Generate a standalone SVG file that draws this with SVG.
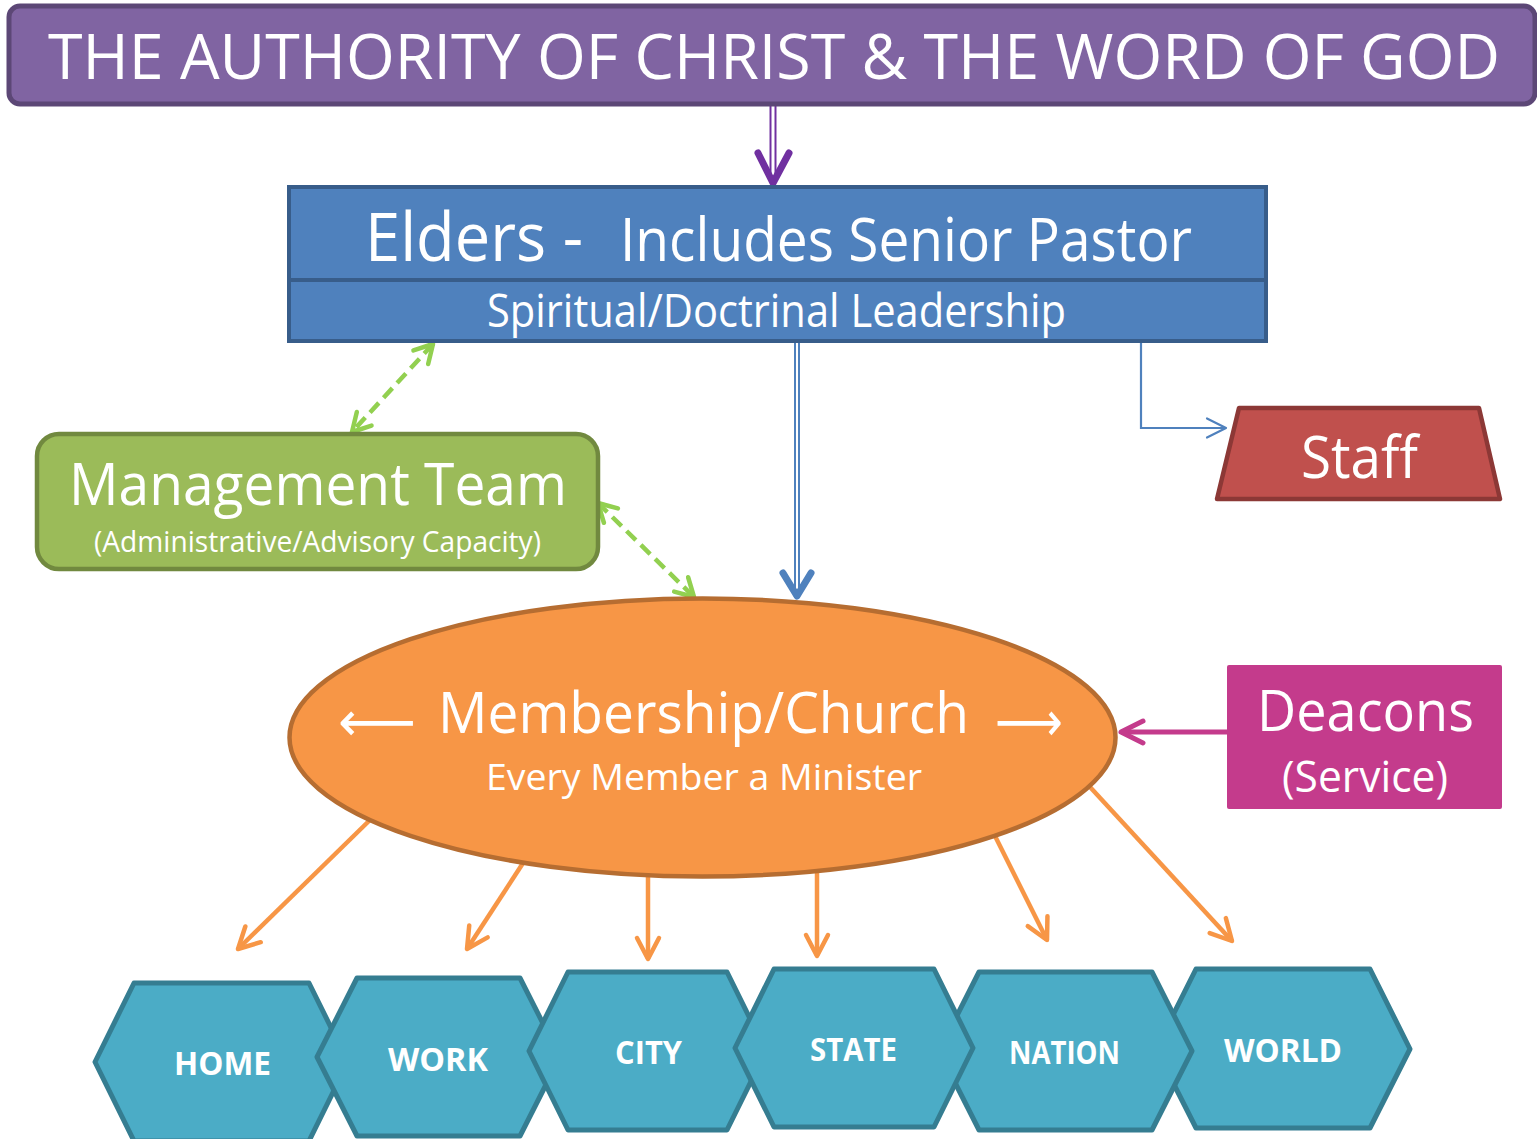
<svg xmlns="http://www.w3.org/2000/svg" width="1537" height="1139" viewBox="0 0 1537 1139">
<defs>
<style>
.t{font-family:"Open Sans","Noto Sans","Liberation Sans",sans-serif;fill:#FFFFFF}
.hx{fill:#4BACC6;stroke:#357D91;stroke-width:5;stroke-linejoin:round}
.hl{font-family:"Open Sans","Noto Sans","Liberation Sans",sans-serif;font-weight:bold;fill:#FFFFFF;font-size:33px}
.or{stroke:#F79646;stroke-width:4.5;fill:none;marker-end:url(#m-orange)}
.gr{stroke:#92D050;stroke-width:4.5;fill:none;stroke-dasharray:13 7;marker-start:url(#m-green);marker-end:url(#m-green)}
</style>
<marker id="m-orange" viewBox="0 0 30 30" refX="25" refY="15" markerWidth="30" markerHeight="30" orient="auto" markerUnits="userSpaceOnUse">
<path d="M4,4 L25,15 L4,26" fill="none" stroke="#F79646" stroke-width="4.5" stroke-linecap="round" stroke-linejoin="round"/>
</marker>
<marker id="m-green" viewBox="0 0 28 28" refX="23" refY="14" markerWidth="28" markerHeight="28" orient="auto-start-reverse" markerUnits="userSpaceOnUse">
<path d="M5,4 L23,14 L5,24" fill="none" stroke="#92D050" stroke-width="4.5" stroke-linecap="round" stroke-linejoin="round"/>
</marker>
<marker id="m-blue" viewBox="0 0 26 24" refX="22" refY="12" markerWidth="26" markerHeight="24" orient="auto" markerUnits="userSpaceOnUse">
<path d="M3,2.5 L22,12 L3,21.5" fill="none" stroke="#4F81BD" stroke-width="2.2" stroke-linecap="round" stroke-linejoin="round"/>
</marker>
<marker id="m-mag" viewBox="0 0 30 30" refX="26" refY="15" markerWidth="30" markerHeight="30" orient="auto" markerUnits="userSpaceOnUse">
<path d="M4,4 L26,15 L4,26" fill="none" stroke="#C43B8C" stroke-width="5" stroke-linecap="round" stroke-linejoin="round"/>
</marker>
</defs>

<g id="connectors">
<line x1="770.5" y1="104" x2="770.5" y2="180" stroke="#7030A0" stroke-width="2"/>
<line x1="775.5" y1="104" x2="775.5" y2="180" stroke="#7030A0" stroke-width="2"/>
<path d="M758,153 L773,183 L789,153" fill="none" stroke="#7030A0" stroke-width="7" stroke-linecap="round" stroke-linejoin="round"/>
<line x1="795" y1="342" x2="795" y2="592" stroke="#4F81BD" stroke-width="2"/>
<line x1="799" y1="342" x2="799" y2="592" stroke="#4F81BD" stroke-width="2"/>
<path d="M783,573 L797,596 L811,573" fill="none" stroke="#4F81BD" stroke-width="7" stroke-linecap="round" stroke-linejoin="round"/>
<path d="M1141,342 V428 H1226" fill="none" stroke="#4F81BD" stroke-width="2.2" marker-end="url(#m-blue)"/>
<line class="gr" x1="433" y1="344" x2="352" y2="432"/>
<line class="gr" x1="598" y1="503" x2="694" y2="597"/>
<line x1="1228" y1="732" x2="1121" y2="732" stroke="#C43B8C" stroke-width="5" marker-end="url(#m-mag)"/>
<line class="or" x1="372" y1="818" x2="238" y2="949"/>
<line class="or" x1="525" y1="860" x2="467" y2="949"/>
<line class="or" x1="648" y1="877" x2="648" y2="959"/>
<line class="or" x1="817" y1="872" x2="817" y2="956"/>
<line class="or" x1="993" y1="832" x2="1047" y2="940"/>
<line class="or" x1="1090" y1="787" x2="1232" y2="941"/>
</g>

<g id="node-title">
<rect x="9" y="6" width="1526" height="98" rx="11" fill="#8064A2" stroke="#5C4776" stroke-width="5"/>
<text class="t" x="48" y="79" font-size="62" textLength="1452" lengthAdjust="spacingAndGlyphs">THE AUTHORITY OF CHRIST &amp; THE WORD OF GOD</text>
</g>

<g id="node-elders">
<rect x="289" y="187" width="977" height="154" fill="#4F81BD" stroke="#385D8A" stroke-width="4"/>
<line x1="289" y1="280" x2="1266" y2="280" stroke="#385D8A" stroke-width="4"/>
<text class="t" x="365" y="261" font-size="67" textLength="218" lengthAdjust="spacingAndGlyphs">Elders -</text>
<text class="t" x="620" y="261" font-size="60" textLength="572" lengthAdjust="spacingAndGlyphs">Includes Senior Pastor</text>
<text class="t" x="487" y="327" font-size="45" textLength="579" lengthAdjust="spacingAndGlyphs">Spiritual/Doctrinal Leadership</text>
</g>

<g id="node-management">
<rect x="37" y="434" width="561" height="135" rx="22" fill="#9BBB59" stroke="#71893F" stroke-width="4.5"/>
<text class="t" x="69" y="505" font-size="59" textLength="498" lengthAdjust="spacingAndGlyphs">Management Team</text>
<text class="t" x="94" y="552" font-size="30" textLength="447" lengthAdjust="spacingAndGlyphs">(Administrative/Advisory Capacity)</text>
</g>

<g id="node-staff">
<polygon points="1239,408 1479,408 1500,499 1217,499" fill="#C0504D" stroke="#8C3836" stroke-width="4.5" stroke-linejoin="round"/>
<text class="t" x="1301" y="478" font-size="58" textLength="117" lengthAdjust="spacingAndGlyphs">Staff</text>
</g>

<g id="node-deacons">
<rect x="1227" y="665" width="275" height="144" rx="2" fill="#C43B8C"/>
<text class="t" x="1257" y="731" font-size="57" textLength="217" lengthAdjust="spacingAndGlyphs">Deacons</text>
<text class="t" x="1282" y="792" font-size="43" textLength="166" lengthAdjust="spacingAndGlyphs">(Service)</text>
</g>

<g id="node-church">
<ellipse cx="702.5" cy="737.5" rx="413" ry="139" fill="#F79646" stroke="#B66D31" stroke-width="4.5"/>
<text x="338" y="741" font-family="DejaVu Sans,sans-serif" font-size="56" fill="#FFFFFF" textLength="78" lengthAdjust="spacingAndGlyphs">⟵</text>
<text class="t" x="438" y="733" font-size="57" textLength="531" lengthAdjust="spacingAndGlyphs">Membership/Church</text>
<text x="995" y="741" font-family="DejaVu Sans,sans-serif" font-size="56" fill="#FFFFFF" textLength="68" lengthAdjust="spacingAndGlyphs">⟶</text>
<text class="t" x="486" y="790" font-size="37" textLength="436" lengthAdjust="spacingAndGlyphs">Every Member a Minister</text>
</g>

<g id="node-home">
<polygon class="hx" points="95,1062 134,983 309,983 348,1062 309,1141 134,1141"/>
<text class="hl" x="174" y="1075" textLength="97" lengthAdjust="spacingAndGlyphs">HOME</text>
</g>
<g id="node-work">
<polygon class="hx" points="317,1057 357,978 520,978 560,1057 520,1136 357,1136"/>
<text class="hl" x="388" y="1071" textLength="100" lengthAdjust="spacingAndGlyphs">WORK</text>
</g>
<g id="node-city">
<polygon class="hx" points="529,1051 568,972 727,972 766,1051 727,1130 568,1130"/>
<text class="hl" x="615" y="1064" textLength="67" lengthAdjust="spacingAndGlyphs">CITY</text>
</g>
<g id="node-world">
<polygon class="hx" points="1156,1049 1196,969 1370,969 1410,1049 1370,1128 1196,1128"/>
<text class="hl" x="1224" y="1062" textLength="118" lengthAdjust="spacingAndGlyphs">WORLD</text>
</g>
<g id="node-nation">
<polygon class="hx" points="939,1051 979,972 1152,972 1192,1051 1152,1130 979,1130"/>
<text class="hl" x="1009" y="1064" textLength="111" lengthAdjust="spacingAndGlyphs">NATION</text>
</g>
<g id="node-state">
<polygon class="hx" points="735,1048 774,969 934,969 973,1048 934,1127 774,1127"/>
<text class="hl" x="810" y="1061" textLength="87" lengthAdjust="spacingAndGlyphs">STATE</text>
</g>
</svg>
